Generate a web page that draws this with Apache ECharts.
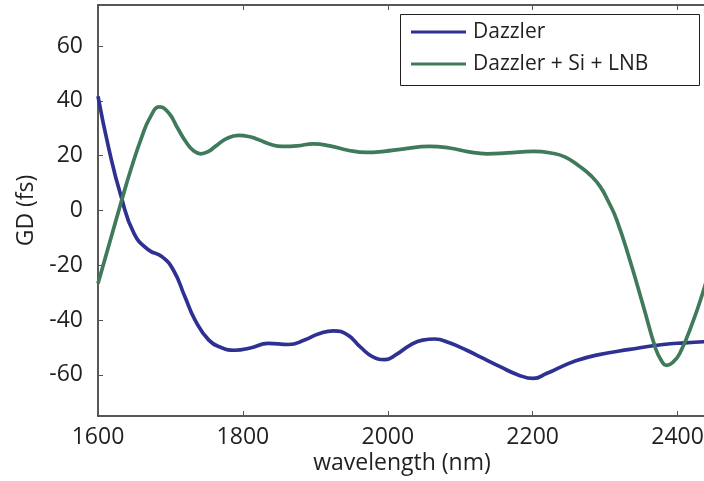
<!DOCTYPE html>
<html>
<head>
<meta charset="utf-8">
<script src="https://cdn.jsdelivr.net/npm/echarts@6/dist/echarts.min.js"></script>
<style>html,body{margin:0;padding:0;background:#fff}#c{width:704px;height:481px}</style>
</head>
<body>
<div id="c"></div>
<script>
var seriesNames = ['Dazzler', 'Dazzler + Si + LNB'];
var dazzlerX = [1600,1615,1632,1650,1670,1688,1704,1720,1734,1753,1770,1789,1810,1835,1863,1885,1905,1925,1945,1962,1980,1996,2012,2031,2048,2065,2085,2109,2132,2155,2180,2201,2219,2240,2256,2288,2334,2380,2410,2445];
var dazzlerY = [41.7,22.5,5,-8.5,-14.4,-16.8,-21.7,-31.5,-40,-47.3,-50,-51,-50.2,-48.5,-48.9,-47.3,-45,-43.9,-45.5,-49.8,-53.5,-54.4,-52.5,-49.1,-47.3,-46.9,-48.3,-51,-54,-57,-60,-61.3,-59.5,-57,-55.2,-52.8,-50.7,-48.9,-48.3,-47.8];
var totalX = [1600,1615,1633,1646,1660,1672,1685,1698,1710,1722,1732,1742,1752,1762,1778,1794,1808,1821,1840,1854,1875,1897,1920,1945,1971,1995,2020,2058,2085,2110,2137,2165,2201,2225,2245,2265,2280,2293,2305,2316,2334,2353,2369,2377,2385,2393,2403,2422,2436,2445];
var totalY = [-26.6,-12.7,4,15.5,26.5,34,37.8,35.5,30,24.8,21.8,20.7,21.5,23.4,26.3,27.4,27,25.9,24,23.4,23.6,24.3,23.6,22,21.2,21.6,22.4,23.4,22.8,21.5,20.7,21,21.6,21,19.5,16.1,12.8,8.8,3,-3.4,-18,-35.1,-49.8,-54.5,-56.5,-55.5,-52.2,-40,-29,-21];
var yTicks = [-60,-40,-20,0,20,40,60];
var xName = 'wavelength (nm)';
var yName = 'GD (fs)';

function pairs(xs, ys){ return xs.map(function(x,i){ return [x, ys[i]]; }); }
function plain(v){ return String(v); }

var font = 'Open Sans';
var textColor = '#231f20';
var axisColor = '#231f20';
var chart = echarts.init(document.getElementById('c'), null, {renderer:'canvas'});
chart.setOption({
  animation: false,
  backgroundColor: '#fff',
  grid: {left: 98, right: -46, top: 5, bottom: 65, containLabel: false, outerBoundsMode: 'none'},
  xAxis: [{
    type: 'value', min: 1600, max: 2500, interval: 200, position: 'bottom',
    axisLine: {show: true, onZero: false, lineStyle: {color: axisColor, width: 1.5}},
    axisTick: {show: true, inside: true, length: 5, lineStyle: {color: '#555', width: 1}},
    axisLabel: {show: true, margin: 10, formatter: plain, fontFamily: font, fontSize: 23, color: textColor},
    splitLine: {show: false}
  }, {
    type: 'value', min: 1600, max: 2500, interval: 200, position: 'top',
    axisLine: {show: true, onZero: false, lineStyle: {color: axisColor, width: 1.5}},
    axisTick: {show: true, inside: true, length: 5, lineStyle: {color: '#555', width: 1}},
    axisLabel: {show: false},
    splitLine: {show: false}
  }],
  yAxis: [{
    type: 'value', min: -75, max: 75,
    name: yName, nameLocation: 'middle', nameGap: 60,
    nameTextStyle: {fontFamily: font, fontSize: 23, color: textColor},
    axisLine: {show: true, onZero: false, lineStyle: {color: axisColor, width: 1.5}},
    axisTick: {show: true, inside: true, length: 5, customValues: yTicks, lineStyle: {color: '#555', width: 1}},
    axisLabel: {show: true, margin: 15, customValues: yTicks, formatter: plain, fontFamily: font, fontSize: 23, color: textColor},
    splitLine: {show: false}
  }],
  legend: {
    show: true, orient: 'vertical', left: 411, top: 20, padding: 0,
    itemWidth: 55, itemHeight: 3, itemGap: 8, icon: 'rect',
    textStyle: {fontFamily: font, fontSize: 21, color: textColor, lineHeight: 24, padding: [0,0,0,2]},
    data: seriesNames, z: 10
  },
  graphic: [
    {type: 'rect', shape: {x: 400.5, y: 14.5, width: 299, height: 71}, style: {fill: '#fff', stroke: '#231f20', lineWidth: 1}, z: 5},
    {type: 'text', x: 402, y: 463, style: {text: xName, font: '23px "Open Sans"', fill: textColor, textAlign: 'center', textVerticalAlign: 'middle'}}
  ],
  series: [{
    name: seriesNames[0], type: 'line', xAxisIndex: 0, data: pairs(dazzlerX, dazzlerY),
    smooth: 0.5, symbol: 'none', lineStyle: {color: '#2e3192', width: 3.7}, itemStyle: {color: '#2e3192'}
  }, {
    name: seriesNames[1], type: 'line', xAxisIndex: 0, data: pairs(totalX, totalY),
    smooth: 0.5, symbol: 'none', lineStyle: {color: '#3f7a5a', width: 3.7}, itemStyle: {color: '#3f7a5a'}
  }]
});
</script>
</body>
</html>
